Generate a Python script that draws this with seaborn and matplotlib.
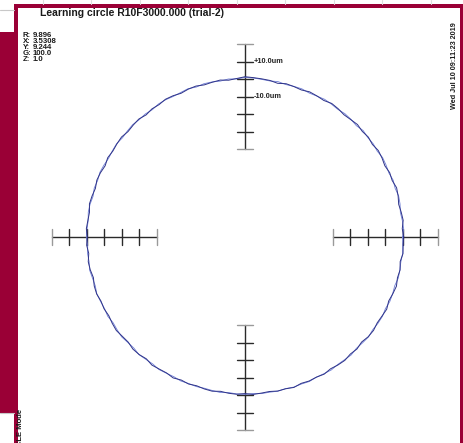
import numpy as np
import matplotlib
matplotlib.use("Agg")
import matplotlib.pyplot as plt
from matplotlib.patches import Rectangle
import seaborn as sns

# ---- data ----
title = "Learning circle R10F3000.000 (trial-2)"
info_labels = ["R:", "X:", "Y:", "G:", "Z:"]
info_values = ["9.896", "3.5308", "9.244", "100.0", "1.0"]
date_text = "Wed Jul 10 09:11:23 2019"
mode_text = "CIRCLE Mode"

# scale ticks (um) and the two labelled ticks
scale_ticks = [-40, -30, -20, -10, 0, 10, 20]
scale_labels = {10: "+10.0um", -10: "-10.0um"}
scale_angles = [0, 90, 180, 270]

# radial deviation (um) of the two runs, every 3 degrees from +x, counter-clockwise
angles_deg = list(range(0, 360, 3))
run_a = [
    0.4, -0.3, 0.6, 0.1, -0.5, 0.3, 0.8, -0.2, 0.2, -0.6,
    0.1, 0.5, -0.3, 0.4, -0.1, 0.6, 0.0, -0.4, 0.3, 0.7,
    -0.2, 0.2, 0.5, -0.3, 0.1, 0.4, -0.5, 0.3, 0.6, 0.9,
    1.3, 0.4, -0.2, 0.5, 0.1, -0.3, 0.4, 0.2, -0.4, 0.3,
    0.6, -0.1, 0.2, -0.5, 0.4, 0.1, -0.3, 0.5, 0.2, -0.2,
    0.3, -0.6, 0.1, 0.4, -0.4, 0.2, 0.6, -0.3, 0.0, 0.5,
    -0.2, 0.3, -0.5, 0.4, 0.1, -0.6, 0.3, 0.5, -0.2, 0.1,
    -0.4, 0.2, 0.6, -0.1, -0.5, 0.3, 0.1, -0.7, 0.2, -0.3,
    -0.6, 0.1, -0.8, -0.3, -0.9, -0.4, -0.2, -1.0, -0.5, -0.3,
    -0.8, -0.2, -0.6, -0.9, -0.3, -0.5, 0.1, -0.7, -0.2, -0.4,
    0.2, -0.5, 0.1, 0.4, -0.3, 0.2, -0.6, 0.3, 0.5, -0.2,
    0.1, 0.6, -0.4, 0.2, 0.7, -0.1, 0.3, -0.5, 0.5, 0.2,
]
run_b = [
    -0.2, 0.5, 0.1, -0.4, 0.3, 0.6, -0.1, 0.4, -0.3, 0.2,
    0.5, -0.2, 0.3, 0.0, 0.6, -0.3, 0.2, 0.4, -0.1, 0.3,
    0.6, 0.1, -0.2, 0.4, 0.2, -0.1, 0.5, 0.0, 0.3, 0.7,
    0.9, 0.2, 0.5, -0.1, 0.3, 0.4, -0.2, 0.5, 0.1, -0.1,
    0.3, 0.4, -0.3, 0.2, 0.0, 0.5, 0.2, -0.2, 0.4, 0.1,
    -0.3, 0.2, 0.5, -0.1, 0.3, -0.4, 0.2, 0.4, -0.2, 0.1,
    0.4, -0.3, 0.2, -0.1, 0.5, 0.0, -0.3, 0.4, 0.1, -0.2,
    0.3, -0.4, 0.0, 0.4, -0.2, -0.5, 0.2, -0.3, -0.6, 0.0,
    -0.4, -0.7, -0.2, -0.6, -0.4, -0.8, -0.6, -0.3, -0.9, -0.5,
    -0.4, -0.7, -0.3, -0.5, -0.2, -0.6, -0.1, -0.3, 0.1, -0.4,
    -0.1, 0.3, -0.2, 0.0, 0.4, -0.3, 0.1, 0.5, -0.1, 0.3,
    0.4, -0.2, 0.3, 0.1, -0.3, 0.4, 0.2, -0.1, 0.3, 0.0,
]

# ---- layout (pixels) ----
W, H = 464, 443
CX, CY = 245, 237
R_PX = 158
PX_PER_UM = 1.75
TICK_HALF = 8
CRIMSON = "#9a0036"

sns.set_style("white")
plt.rcParams["font.family"] = ["Liberation Sans", "DejaVu Sans"]

fig = plt.figure(figsize=(W / 100, H / 100), dpi=100)
ax = fig.add_axes([0, 0, 1, 1])
ax.set_xlim(0, W)
ax.set_ylim(H, 0)
ax.axis("off")


def to_xy(angle_deg, dev_um):
    th = np.deg2rad(np.asarray(angle_deg, dtype=float))
    r = R_PX + np.asarray(dev_um, dtype=float) * PX_PER_UM
    return CX + r * np.cos(th), CY - r * np.sin(th)


# window frame
ax.add_patch(Rectangle((14, 4), W - 18, 3.5, color=CRIMSON, lw=0))
ax.add_patch(Rectangle((14, 4), 4, H, color=CRIMSON, lw=0))
ax.add_patch(Rectangle((460, 4), 3.5, H, color=CRIMSON, lw=0))
ax.add_patch(Rectangle((0, 32), 18, 381, color=CRIMSON, lw=0))
ax.plot([0, 14], [10, 10], color="#c8c8c8", lw=0.8)
ax.plot([0, 14], [413, 413], color="#c8c8c8", lw=0.8)
for gx in np.arange(43, W - 20, 48.5):
    ax.plot([gx, gx], [0, 4], color="#dddddd", lw=0.8)

# scales
for a in scale_angles:
    xs, ys = to_xy([a] * len(scale_ticks), scale_ticks)
    ax.plot([xs[0], xs[-1]], [ys[0], ys[-1]], color="#2a2a2a", lw=1.0)
    ux, uy = -np.sin(np.deg2rad(a)), -np.cos(np.deg2rad(a))
    for i, (tx, ty) in enumerate(zip(xs, ys)):
        col = "#9a9a9a" if i in (0, len(xs) - 1) else "#2a2a2a"
        ax.plot([tx - ux * TICK_HALF, tx + ux * TICK_HALF],
                [ty - uy * TICK_HALF, ty + uy * TICK_HALF], color=col, lw=1.0)
    if a == 90:
        for v, lab in scale_labels.items():
            lx, ly = to_xy(a, v)
            ax.text(lx + 9, ly, lab, fontsize=5.3, fontweight="bold",
                    ha="left", va="center", color="#222222")

# traces
for dev, col, lw in [(run_b, "#6f7fd6", 0.6), (run_a, "#2e3388", 0.7)]:
    xs, ys = to_xy(angles_deg + [angles_deg[0]], dev + [dev[0]])
    sns.lineplot(x=xs, y=ys, sort=False, estimator=None, color=col,
                 lw=lw, ax=ax)

# texts
ax.text(40, 13, title, fontsize=7.5, fontweight="bold", ha="left",
        va="center", color="#1a1a1a")
for i, (lab, val) in enumerate(zip(info_labels, info_values)):
    y = 35 + i * 6.1
    ax.text(23, y, lab, fontsize=5.6, fontweight="bold", ha="left",
            va="center", color="#1a1a1a")
    ax.text(33, y, val, fontsize=5.6, fontweight="bold", ha="left",
            va="center", color="#1a1a1a")
ax.text(455, 22, date_text, fontsize=5.2, fontweight="bold", rotation=90,
        ha="center", va="top", color="#1a1a1a")
ax.text(21, 409, mode_text, fontsize=5.5, fontweight="bold", rotation=90,
        ha="center", va="top", color="#1a1a1a")

fig.savefig("out.png", dpi=100)
